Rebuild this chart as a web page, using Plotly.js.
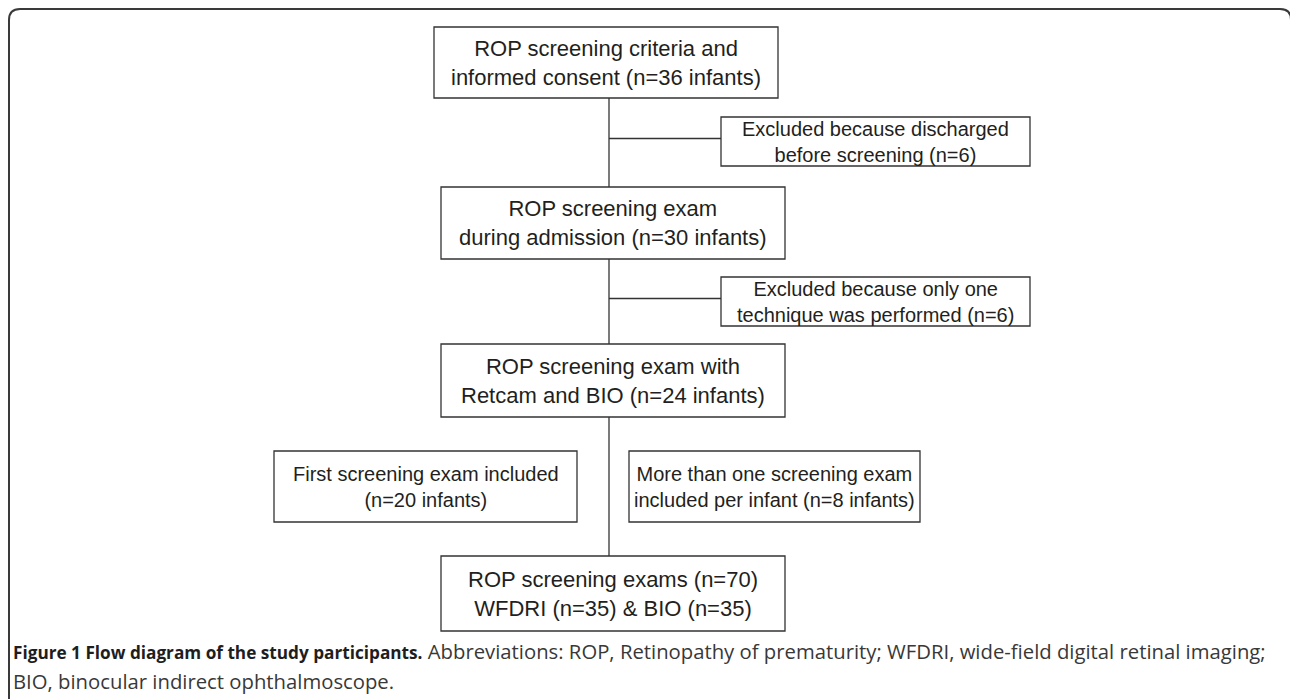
<!DOCTYPE html>
<html>
<head>
<meta charset="utf-8">
<script src="https://cdn.plot.ly/plotly-3.0.1.min.js"></script>
<style>html,body{margin:0;padding:0;background:#fff;}#chart{width:1290px;height:699px;}</style>
</head>
<body>
<div id="chart"></div>
<script>
// ---- data ----
const stageLabels = ["ROP screening criteria and<br>informed consent", "ROP screening exam<br>during admission", "ROP screening exam with<br>Retcam and BIO"];
const stageCounts = [36, 30, 24];
const excludedLabels = ["Excluded because discharged<br>before screening", "Excluded because only one<br>technique was performed"];
const excludedCounts = [6, 6];
const splitLabels = ["First screening exam included<br>", "More than one screening exam<br>included per infant "];
const splitCounts = [20, 8];
const examTotal = 70;
const techniqueNames = ["WFDRI", "BIO"];
const techniqueCounts = [35, 35];
const captionBold = "Figure 1 Flow diagram of the study participants.";
const captionText = [" Abbreviations: ROP, Retinopathy of prematurity; WFDRI, wide-field digital retinal imaging;", "BIO, binocular indirect ophthalmoscope."];

// ---- layout geometry (pixels, y downward) ----
const trunkX = 609;
const stageBoxes = [[434, 778, 27, 98], [441, 785, 187, 259], [441, 785, 344, 417]];
const excludedBoxes = [[721, 1030, 117, 166], [721, 1030, 277, 326]];
const splitBoxes = [[274, 577, 451, 522], [629, 920, 451, 522]];
const finalBox = [441, 785, 556, 631];

const lineColor = "#333333";
const textColor = "#231f20";
const shapes = [];
const annotations = [];

function box(b, text, size) {
  shapes.push({type: "rect", xref: "x", yref: "y", x0: b[0], x1: b[1], y0: b[2], y1: b[3],
    line: {color: lineColor, width: 1.3}, fillcolor: "rgba(0,0,0,0)"});
  annotations.push({x: (b[0] + b[1]) / 2, y: (b[2] + b[3]) / 2, xref: "x", yref: "y",
    text: text, showarrow: false, xanchor: "center", yanchor: "middle", align: "center",
    font: {family: "Liberation Sans, Arial, sans-serif", size: size, color: textColor}});
}
function line(x0, y0, x1, y1) {
  shapes.push({type: "line", xref: "x", yref: "y", x0: x0, y0: y0, x1: x1, y1: y1,
    line: {color: lineColor, width: 1.3}});
}

stageLabels.forEach((l, i) => box(stageBoxes[i], l + " (n=" + stageCounts[i] + " infants)", 22));
excludedLabels.forEach((l, i) => box(excludedBoxes[i], l + " (n=" + excludedCounts[i] + ")", 20));
splitLabels.forEach((l, i) => box(splitBoxes[i], l + "(n=" + splitCounts[i] + " infants)", 20));
box(finalBox, "ROP screening exams (n=" + examTotal + ")<br>" +
  techniqueNames.map((t, i) => t + " (n=" + techniqueCounts[i] + ")").join(" &amp; "), 22);

// trunk segments
line(trunkX, stageBoxes[0][3], trunkX, stageBoxes[1][2]);
line(trunkX, stageBoxes[1][3], trunkX, stageBoxes[2][2]);
line(trunkX, stageBoxes[2][3], trunkX, finalBox[2]);
// connectors to exclusion boxes
excludedBoxes.forEach(b => line(trunkX, (b[2] + b[3]) / 2 - 3, b[0], (b[2] + b[3]) / 2 - 3));

// outer frame
shapes.push({type: "path", xref: "x", yref: "y",
  path: "M 9 720 L 9 20 Q 9 9 20 9 L 1280 9 Q 1291 9 1291 20 L 1291 720",
  line: {color: "#3a3a3a", width: 2}});

// caption
annotations.push({x: 11, y: 651, xref: "x", yref: "y", showarrow: false, xanchor: "left", yanchor: "middle", align: "left",
  text: "<b style=\"font-size:17.2px;color:#1e1e1e\">" + captionBold + "</b>" + captionText[0],
  font: {family: "Open Sans, sans-serif", size: 20.3, color: "#383838"}});
annotations.push({x: 11, y: 681, xref: "x", yref: "y", showarrow: false, xanchor: "left", yanchor: "middle", align: "left",
  text: captionText[1],
  font: {family: "Open Sans, sans-serif", size: 20.3, color: "#383838"}});

const layout = {
  width: 1290, height: 699,
  margin: {l: 0, r: 0, t: 0, b: 0, pad: 0},
  paper_bgcolor: "#ffffff", plot_bgcolor: "#ffffff",
  xaxis: {range: [0, 1290], visible: false, fixedrange: true},
  yaxis: {range: [699, 0], visible: false, fixedrange: true},
  showlegend: false,
  shapes: shapes,
  annotations: annotations
};
Plotly.newPlot("chart", [], layout, {staticPlot: true, displayModeBar: false});
</script>
</body>
</html>
